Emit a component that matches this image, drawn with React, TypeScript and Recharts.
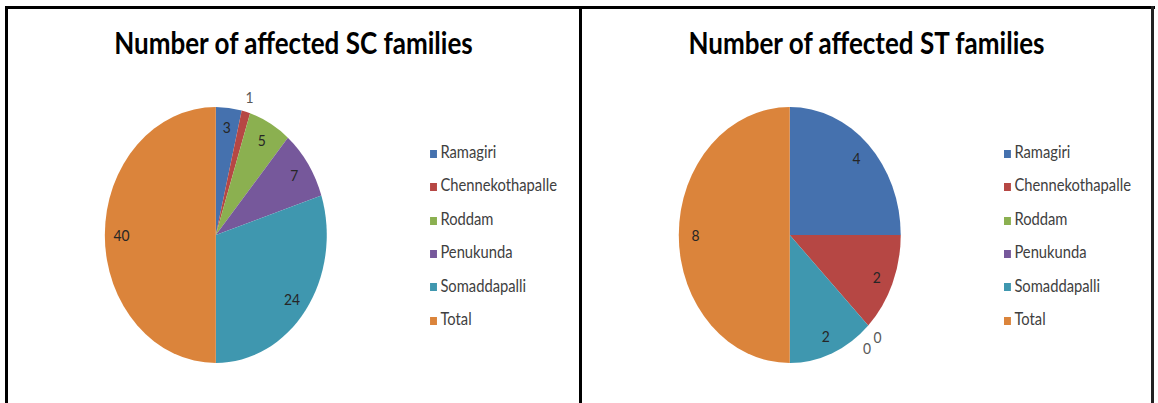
import { PieChart, Pie, Cell, Legend } from "recharts"

// the source picture is squeezed horizontally; draw wide and scale x back
const S = 0.867

const districts = ["Ramagiri", "Chennekothapalle", "Roddam", "Penukunda", "Somaddapalli", "Total"]
const scFamilies = [3, 1, 5, 7, 24, 40]
const stFamilies = [4, 2, 0, 0, 2, 8]
const sliceColors = ["#4571AE", "#B64744", "#8BB050", "#76589B", "#3F97AF", "#DB843B"]

const RAD = Math.PI / 180
const FONT = "Lato, 'Open Sans', sans-serif"

function makeLabel(values: number[]) {
  return (props: any) => {
    const { cx, cy, midAngle, outerRadius, value, index, percent } = props
    const outside = percent < 0.02
    let angle = midAngle
    if (value === 0) {
      // excel nudges stacked zero labels apart
      const rank = values.slice(0, index).filter((v) => v === 0).length
      angle -= rank * 6.5
    }
    const r = outerRadius * (outside ? 1.12 : 0.85)
    const x = cx + r * Math.cos(-angle * RAD)
    const y = cy + r * Math.sin(-angle * RAD)
    return (
      <text
        x={x}
        y={y}
        textAnchor="middle"
        dominantBaseline="central"
        fill={outside ? "#595959" : "#262626"}
        stroke="none"
        fontSize={16}
        fontFamily={FONT}
      >
        {value}
      </text>
    )
  }
}

function Panel({ title, values, left, width }: { title: string; values: number[]; left: number; width: number }) {
  const rows = districts.map((name, i) => ({ name, value: values[i] }))
  return (
    <div style={{ position: "absolute", left: left / S, top: 0, width: width / S, height: 403 }}>
      <div
        style={{
          position: "absolute",
          left: 0,
          top: 24,
          width: "100%",
          textAlign: "center",
          fontFamily: FONT,
          fontWeight: 700,
          fontSize: 30,
          lineHeight: 1.2,
          color: "#000",
        }}
      >
        {title}
      </div>
      <PieChart width={width / S} height={403} style={{ position: "absolute", left: 0, top: 0 }}>
        <Pie
          data={rows}
          dataKey="value"
          nameKey="name"
          cx={208 / S - 5}
          cy={230}
          outerRadius={128}
          startAngle={90}
          endAngle={-270}
          stroke="none"
          labelLine={false}
          label={makeLabel(values)}
          isAnimationActive={false}
        >
          {rows.map((r, i) => (
            <Cell key={r.name} fill={sliceColors[i]} />
          ))}
        </Pie>
        <Legend
          layout="vertical"
          iconType="square"
          iconSize={8}
          itemSorter={null as any}
          wrapperStyle={{ left: 422 / S, top: 135, lineHeight: "33.4px", fontFamily: FONT, fontSize: 17 }}
          formatter={(v: string) => <span style={{ color: "#404040" }}>{v}</span>}
        />
      </PieChart>
    </div>
  )
}

export default function App() {
  return (
    <div style={{ position: "absolute", left: 0, top: 0, width: 1158, height: 403, background: "#fff", overflow: "hidden" }}>
      <div style={{ position: "absolute", left: 0, top: 0, width: 1158 / S, height: 403, transform: `scaleX(${S})`, transformOrigin: "0 0" }}>
        <Panel title="Number of affected SC families" values={scFamilies} left={8} width={571} />
        <Panel title="Number of affected ST families" values={stFamilies} left={582} width={569} />
      </div>
      <div style={{ position: "absolute", left: 5, top: 6, width: 1150, height: 3, background: "#000" }} />
      <div style={{ position: "absolute", left: 5, top: 6, width: 3, height: 400, background: "#000" }} />
      <div style={{ position: "absolute", left: 579, top: 6, width: 3, height: 400, background: "#000" }} />
      <div style={{ position: "absolute", left: 1151, top: 6, width: 3, height: 400, background: "#222" }} />
    </div>
  )
}
